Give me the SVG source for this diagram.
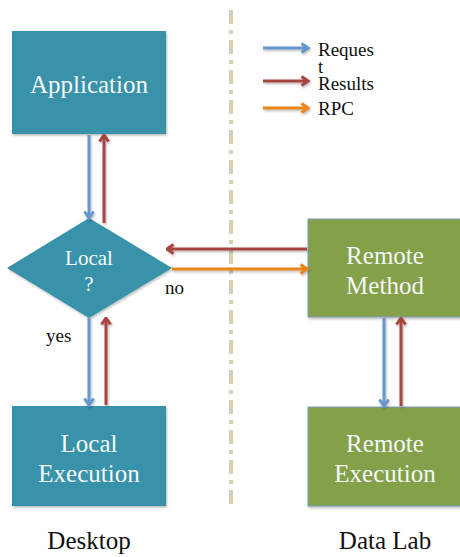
<svg xmlns="http://www.w3.org/2000/svg" width="460" height="557" viewBox="0 0 460 557">
  <style>
    .teal { fill: #3892AA; }
    .green { fill: #84A048; stroke: #7F9EC2; stroke-width: 1; }
    .box-text { font-family: "Liberation Serif", "Times New Roman", serif; font-size: 25px; fill: #F5F8F8; text-anchor: middle; }
    .dia-text { font-family: "Liberation Serif", "Times New Roman", serif; font-size: 21px; fill: #F5F8F8; text-anchor: middle; }
    .label { font-family: "Liberation Serif", "Times New Roman", serif; font-size: 19px; fill: #111; }
    .caption { font-family: "Liberation Serif", "Times New Roman", serif; font-size: 25px; fill: #111; text-anchor: middle; }
    .req { stroke: #6596CE; stroke-width: 3; fill: none; marker-end: url(#head-blue); }
    .res { stroke: #A7453F; stroke-width: 3; fill: none; marker-end: url(#head-red); }
    .rpc { stroke: #E8861C; stroke-width: 3; fill: none; marker-end: url(#head-orange); }
    .divider { stroke: #D6D0B0; stroke-width: 4; stroke-dasharray: 14 6 4 6; fill: none; }
  </style>
  <defs>
    <filter id="shadow" x="-10%" y="-10%" width="130%" height="130%">
      <feDropShadow dx="1" dy="1.5" stdDeviation="1.2" flood-color="#000" flood-opacity="0.28"/>
    </filter>
    <filter id="line-shadow" filterUnits="userSpaceOnUse" x="0" y="0" width="460" height="557">
      <feDropShadow dx="1" dy="1.5" stdDeviation="1.2" flood-color="#000" flood-opacity="0.28"/>
    </filter>
    <marker id="head-blue" viewBox="0 0 12 12" refX="10.5" refY="6" markerWidth="12" markerHeight="12" markerUnits="userSpaceOnUse" orient="auto">
      <path d="M4,1.5 L10.5,6 L4,10.5" fill="none" stroke="#6596CE" stroke-width="3"/>
    </marker>
    <marker id="head-red" viewBox="0 0 12 12" refX="10.5" refY="6" markerWidth="12" markerHeight="12" markerUnits="userSpaceOnUse" orient="auto">
      <path d="M4,1.5 L10.5,6 L4,10.5" fill="none" stroke="#A7453F" stroke-width="3"/>
    </marker>
    <marker id="head-orange" viewBox="0 0 12 12" refX="10.5" refY="6" markerWidth="12" markerHeight="12" markerUnits="userSpaceOnUse" orient="auto">
      <path d="M4,1.5 L10.5,6 L4,10.5" fill="none" stroke="#E8861C" stroke-width="3"/>
    </marker>
  </defs>

  <rect width="460" height="557" fill="#FFFFFF"/>

  <!-- desktop / data lab boundary -->
  <line class="divider" x1="231" y1="10" x2="231" y2="507"/>

  <!-- legend -->
  <g id="legend">
    <g filter="url(#line-shadow)">
      <line class="req" x1="263" y1="48" x2="308" y2="48"/>
      <line class="res" x1="263" y1="81" x2="308" y2="81"/>
      <line class="rpc" x1="263" y1="108" x2="308" y2="108"/>
    </g>
    <text class="label" x="318" y="56">Reques</text>
    <text class="label" x="318" y="73">t</text>
    <text class="label" x="318" y="90">Results</text>
    <text class="label" x="318" y="115">RPC</text>
  </g>

  <!-- nodes -->
  <g id="application">
    <rect class="teal" x="12" y="31" width="154" height="103" filter="url(#shadow)"/>
    <text class="box-text" x="89" y="93">Application</text>
  </g>

  <g id="local-decision">
    <polygon class="teal" points="89,218 172,268 89,318 7,268" filter="url(#shadow)"/>
    <text class="dia-text" x="89" y="265">Local</text>
    <text class="dia-text" x="89" y="291">?</text>
  </g>

  <g id="local-execution">
    <rect class="teal" x="12" y="406" width="154" height="100" filter="url(#shadow)"/>
    <text class="box-text" x="89" y="452">Local</text>
    <text class="box-text" x="89" y="482">Execution</text>
  </g>

  <g id="remote-method">
    <rect class="green" x="308" y="219" width="154" height="98" filter="url(#shadow)"/>
    <text class="box-text" x="385" y="264">Remote</text>
    <text class="box-text" x="385" y="294">Method</text>
  </g>

  <g id="remote-execution">
    <rect class="green" x="308" y="407" width="154" height="99" filter="url(#shadow)"/>
    <text class="box-text" x="385" y="452">Remote</text>
    <text class="box-text" x="385" y="482">Execution</text>
  </g>

  <!-- connectors -->
  <g id="connectors" filter="url(#line-shadow)">
    <line class="req" x1="89" y1="135" x2="89" y2="218"/>
    <line class="res" x1="104" y1="223" x2="104" y2="135"/>
    <line class="res" x1="307" y1="249" x2="167" y2="249"/>
    <line class="rpc" x1="172" y1="269" x2="307" y2="269"/>
    <line class="req" x1="89" y1="318" x2="89" y2="405"/>
    <line class="res" x1="106" y1="405" x2="106" y2="318"/>
    <line class="req" x1="384" y1="318" x2="384" y2="406"/>
    <line class="res" x1="401" y1="406" x2="401" y2="318"/>
  </g>

  <!-- branch labels -->
  <text class="label" x="165" y="294">no</text>
  <text class="label" x="46" y="342">yes</text>

  <!-- side captions -->
  <text class="caption" x="89" y="549">Desktop</text>
  <text class="caption" x="385" y="549">Data Lab</text>
</svg>
